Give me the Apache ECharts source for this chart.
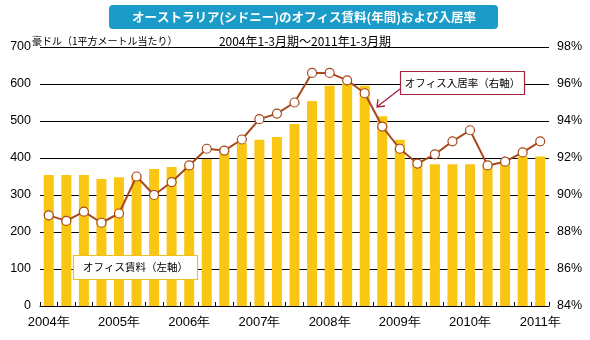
<!DOCTYPE html>
<html><head><meta charset="utf-8">
<script src="https://cdn.jsdelivr.net/npm/echarts@6/dist/echarts.min.js"></script>
<style>html,body{margin:0;padding:0;background:#fff}#c{width:590px;height:340px}</style>
</head><body><div id="c"></div>
<script>
const quarters = ['2004Q1','2004Q2','2004Q3','2004Q4','2005Q1','2005Q2','2005Q3','2005Q4','2006Q1','2006Q2','2006Q3','2006Q4','2007Q1','2007Q2','2007Q3','2007Q4','2008Q1','2008Q2','2008Q3','2008Q4','2009Q1','2009Q2','2009Q3','2009Q4','2010Q1','2010Q2','2010Q3','2010Q4','2011Q1'];
const yearLabels = {'2004Q1':'2004年','2005Q1':'2005年','2006Q1':'2006年','2007Q1':'2007年','2008Q1':'2008年','2009Q1':'2009年','2010Q1':'2010年','2011Q1':'2011年'};
const rent = [354,354,354,343,348,355,370,376,380,397,430,440,449,457,492,554,595,600,595,513,449,395,383,383,383,383,390,404,404];
const occupancy = [88.9,88.6,89.1,88.5,89.0,91.0,90.0,90.7,91.6,92.5,92.4,93.0,94.1,94.4,95.0,96.6,96.6,96.2,95.5,93.7,92.5,91.7,92.2,92.9,93.5,91.6,91.8,92.3,92.9];
const leftTicks = {min:0, max:700, interval:100};
const rightTicks = {min:84, max:98, interval:2};
const titleText = 'オーストラリア(シドニー)のオフィス賃料(年間)および入居率';
const subtitleText = '2004年1-3月期～2011年1-3月期';
const unitText = '豪ドル（1平方メートル当たり）';
const rentName = 'オフィス賃料（左軸）';
const occName = 'オフィス入居率（右軸）';

const JP = '"Noto Sans CJK JP", sans-serif';
const NUM = '"Liberation Sans", Arial, sans-serif';
const chart = echarts.init(document.getElementById('c'));
chart.setOption({
  animation:false,
  grid:{left:40, right:41, top:47, bottom:34},
  xAxis:{type:'category', data:quarters, boundaryGap:true,
    axisLine:{lineStyle:{color:'#000', width:1}},
    axisTick:{show:true, inside:true, length:4, interval:0, lineStyle:{color:'#000'}},
    axisLabel:{interval:3, margin:10, fontSize:13, color:'#000', fontFamily:NUM,
      formatter:v=>yearLabels[v]||''}},
  yAxis:[
    {type:'value', min:leftTicks.min, max:leftTicks.max, interval:leftTicks.interval,
      axisLine:{show:false}, axisTick:{show:false},
      splitLine:{lineStyle:{color:'#000', width:1}},
      axisLabel:{fontSize:12.5, color:'#000', margin:9, fontFamily:NUM}},
    {type:'value', min:rightTicks.min, max:rightTicks.max, interval:rightTicks.interval,
      axisLine:{show:false}, axisTick:{show:false}, splitLine:{show:false},
      axisLabel:{fontSize:12.5, color:'#000', margin:8, fontFamily:NUM, formatter:'{value}%'}}
  ],
  series:[
    {name:rentName, type:'bar', data:rent, barWidth:10, itemStyle:{color:'#f9c713'}, yAxisIndex:0},
    {name:occName, type:'line', data:occupancy, yAxisIndex:1, symbol:'circle', symbolSize:9,
      lineStyle:{color:'#a8481c', width:2},
      itemStyle:{color:'#fff', borderColor:'#a8481c', borderWidth:1.2}}
  ],
  graphic:[
    {type:'rect', shape:{x:109, y:5, width:389, height:24, r:4}, style:{fill:'#1b9cc8'}},
    {type:'text', x:304, y:17, style:{text:titleText, fill:'#fff', font:'bold 12.5px '+JP, textAlign:'center', textVerticalAlign:'middle'}},
    {type:'text', x:305, y:41, style:{text:subtitleText, fill:'#000', font:'12px '+JP, textAlign:'center', textVerticalAlign:'middle'}},
    {type:'text', x:32, y:41, style:{text:unitText, fill:'#000', font:'10px '+JP, textAlign:'left', textVerticalAlign:'middle'}},
    {type:'rect', shape:{x:73.5, y:255.5, width:124, height:24}, style:{fill:'#fff', stroke:'#f0c020', lineWidth:1.2}, z:10},
    {type:'text', x:135.5, y:267.5, style:{text:rentName, fill:'#000', font:'10.5px '+JP, textAlign:'center', textVerticalAlign:'middle'}, z:11},
    {type:'rect', shape:{x:400.5, y:71.5, width:124, height:23}, style:{fill:'#fff', stroke:'#a3243f', lineWidth:1.2}, z:10},
    {type:'text', x:462.5, y:83, style:{text:occName, fill:'#000', font:'10.5px '+JP, textAlign:'center', textVerticalAlign:'middle'}, z:11},
    {type:'line', shape:{x1:400, y1:89, x2:378, y2:106}, style:{stroke:'#a3243f', lineWidth:1.3}, z:10},
    {type:'polyline', shape:{points:[[378,99],[377,107],[385,106]]}, style:{stroke:'#a3243f', lineWidth:1.3, fill:null}, z:10}
  ]
});
</script></body></html>
